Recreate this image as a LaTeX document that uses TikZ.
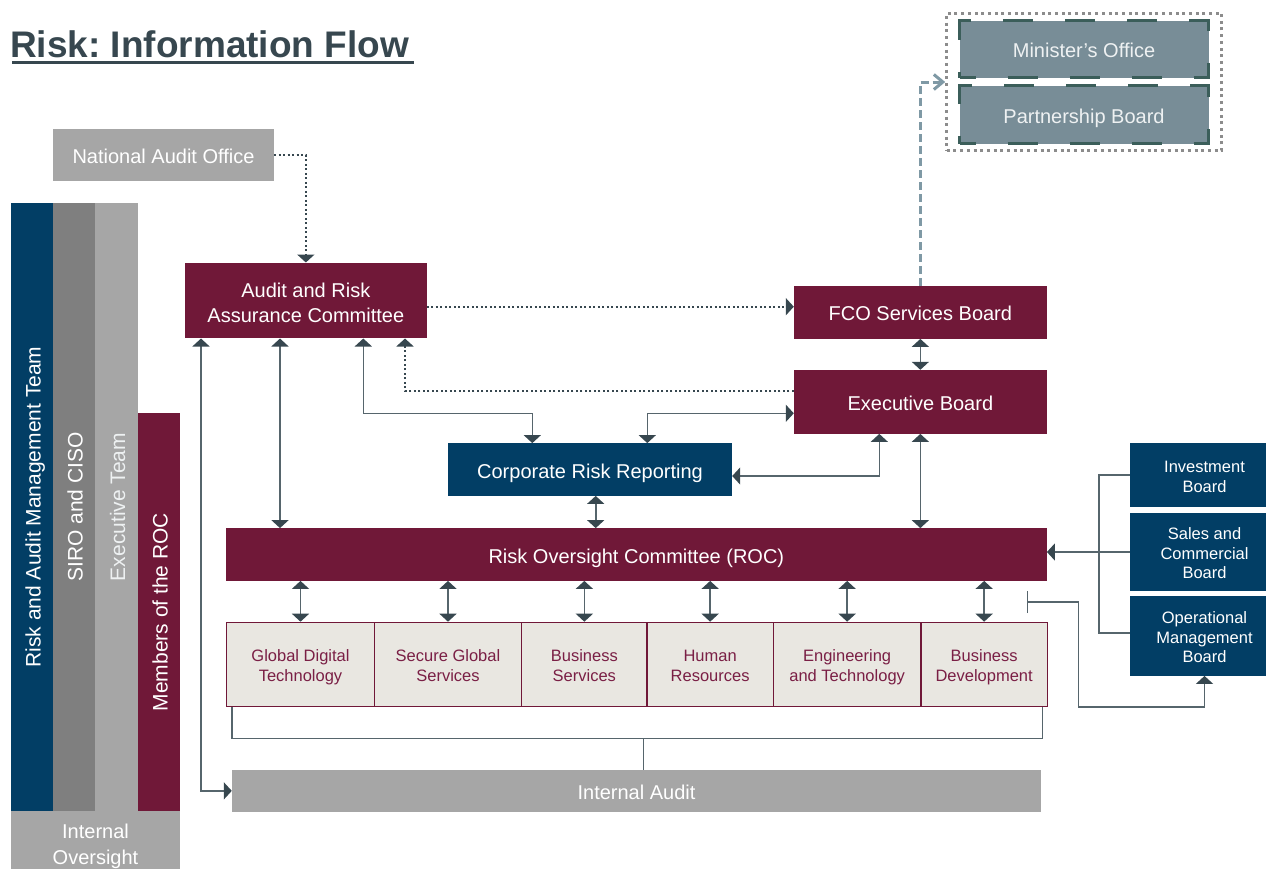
\documentclass[tikz,border=0pt]{standalone}
\usepackage{fontspec}
\setmainfont{Liberation Sans}
\usetikzlibrary{arrows.meta}
\frenchspacing
\definecolor{cMar}{HTML}{701838}
\definecolor{cNavy}{HTML}{023E65}
\definecolor{cGray}{HTML}{A6A6A6}
\definecolor{cMid}{HTML}{7F7F7F}
\definecolor{cBeige}{HTML}{E9E7E1}
\definecolor{cUnitTxt}{HTML}{7A1F45}
\definecolor{cSlate}{HTML}{788D97}
\definecolor{cDash}{HTML}{3B5E5A}
\definecolor{cDot}{HTML}{8C8C8C}
\definecolor{cDashLine}{HTML}{7F99A5}
\definecolor{cTitle}{HTML}{37474F}
\definecolor{cLine}{HTML}{56656C}
\definecolor{cArrow}{HTML}{37474F}
\definecolor{cLight}{HTML}{EEF1F2}
\newcommand\bigtop{\rule{0pt}{22pt}}
\newcommand\bigbot{\rule[-5pt]{0pt}{5pt}}
\newcommand\tstrut[1]{\rule{0pt}{#1pt}}
\newcommand\bstrut[1]{\rule[-#1pt]{0pt}{#1pt}}
\tikzset{
  box/.style={inner sep=0pt, align=center, text=white, font=\fontsize{20}{25}\selectfont,
    execute at begin node=\bigtop, execute at end node=\bigbot},
  multi/.style={execute at begin node={}, execute at end node={}},
  wh/.style 2 args={minimum width=#1pt, minimum height=#2pt},
  unitbox/.style={box, multi, fill=cBeige, draw=cMar, line width=1.2pt, text=cUnitTxt, font=\fontsize{16.5}{20}\selectfont},
  smallbox/.style={box, multi, fill=cNavy, font=\fontsize{16.5}{19.5}\selectfont},
  vbar/.style={box, rotate=90, font=\fontsize{21}{25}\selectfont},
  conn/.style={draw=cLine, line width=1.6pt},
  dotline/.style={draw=cArrow, line width=2pt, dash pattern=on 2pt off 2.5pt},
  dashline/.style={draw=cDashLine, line width=3pt, dash pattern=on 8pt off 4pt},
  mbox/.style={box, fill=cSlate, text=cLight, draw=cDash, line width=3pt, dash pattern=on 30pt off 32pt, dash phase=14pt},
}
\begin{document}
\begin{tikzpicture}[x=1pt, y=-1pt, >={Triangle[width=17pt,length=8pt,color=cArrow]}]
\useasboundingbox (0,0) rectangle (1266,868);
\clip (0,0) rectangle (1266,868);

% title
\node[anchor=base west, inner sep=0pt, text=cTitle, font=\fontsize{37}{40}\selectfont\bfseries] (title) at (10,57) {Risk: Information Flow};
\fill[cTitle] (12,60.5) rectangle (414,64);

% minister group
\node[draw=cDot, line width=3pt, dash pattern=on 3pt off 3.7pt, wh={275}{137.4}, inner sep=0pt] (mgroup) at (1084.2,82) {};
\node[mbox, wh={249}{57}] (mo) at (1084,49) {Minister’s Office};
\node[mbox, wh={249}{58}] (pb) at (1084,114.5) {Partnership Board};

% main boxes
\node[box, fill=cGray, wh={221}{52}] (nao) at (163.5,155) {National Audit Office};
\node[box, multi, fill=cMar, wh={241.7}{75.6}] (audit) at (305.85,300.5) {\tstrut{24}Audit and Risk\\Assurance Committee\bstrut{5}};
\node[box, fill=cMar, wh={252.7}{52.7}] (fco) at (920.35,312.35) {FCO Services Board};
\node[box, fill=cMar, wh={252.7}{63.7}] (exec) at (920.35,401.85) {Executive Board};
\node[box, fill=cNavy, wh={284}{52.4}] (crr) at (590,469.5) {Corporate Risk Reporting};
\node[box, fill=cMar, wh={820.7}{52.4}] (roc) at (636.35,554.5) {Risk Oversight Committee (ROC)};

% units
\node[unitbox, wh={147.6}{84.4}] (u1) at (300.5,664.5) {\tstrut{19}Global Digital\\Technology\bstrut{4}};
\node[unitbox, wh={147.4}{84.4}] (u2) at (448,664.5) {\tstrut{19}Secure Global\\Services\bstrut{4}};
\node[unitbox, wh={125.3}{84.4}] (u3) at (584.35,664.5) {\tstrut{19}Business\\Services\bstrut{4}};
\node[unitbox, wh={126.3}{84.4}] (u4) at (710.15,664.5) {\tstrut{19}Human\\Resources\bstrut{4}};
\node[unitbox, wh={147.7}{84.4}] (u5) at (847.15,664.5) {\tstrut{19}Engineering\\and Technology\bstrut{4}};
\node[unitbox, wh={126.3}{84.4}] (u6) at (984.15,664.5) {\tstrut{19}Business\\Development\bstrut{4}};

\node[box, fill=cGray, wh={809}{41.7}] (ia) at (636.5,790.85) {Internal Audit};

% left bars
\node[vbar, fill=cNavy, wh={608}{42}] (ramt) at (32,507) {Risk and Audit Management Team};
\node[vbar, fill=cMid, wh={608}{42}] (siro) at (74,507) {SIRO and CISO};
\node[vbar, fill=cGray, text=cLight, wh={608}{43}] (exteam) at (116.5,507) {Executive Team};
\node[vbar, fill=cMar, wh={398}{42}] (members) at (159,612) {Members of the ROC};
\node[box, multi, fill=cGray, wh={169}{68}, font=\fontsize{20}{26}\selectfont] (io) at (95.5,845) {\tstrut{17}Internal\\Oversight\bstrut{5}};

% right boards
\node[smallbox, wh={149}{63.4}] (inv) at (1204.5,475) {\tstrut{19.5}Investment\\Board\bstrut{4}};
\node[smallbox, wh={149}{77.4}] (sales) at (1204.5,552) {\tstrut{19.5}Sales and\\Commercial\\Board\bstrut{4}};
\node[smallbox, wh={149}{79.7}] (opb) at (1204.5,635.85) {\tstrut{19.5}Operational\\Management\\Board\bstrut{4}};

% helper coordinates
\coordinate (yAF) at (0,306.7);
\coordinate (yEA) at (0,390.7);
\coordinate (xEA) at (405,0);
\coordinate (x363) at (363.3,0);
\coordinate (y413) at (0,413.3);
\coordinate (x532) at (532.3,0);
\coordinate (x647) at (647.3,0);
\coordinate (y476) at (0,476);
\coordinate (x879) at (879.3,0);
\coordinate (x596) at (595.7,0);
\coordinate (x280) at (280,0);
\coordinate (x201) at (201,0);
\coordinate (xR) at (1099,0);
\coordinate (yOp) at (0,632.7);
\coordinate (tstart) at (1026.7,602);
\coordinate (xT) at (1078.3,0);
\coordinate (yT) at (0,706.7);
\coordinate (xBL) at (231.7,0);
\coordinate (xBR) at (1042.3,0);
\coordinate (yBr) at (0,738.3);
\coordinate (xStem) at (643.3,0);

% connectors
\draw[dotline,->] (nao.east) -| (audit.north);
\draw[dotline,->] (audit.east |- yAF) -- (fco.west |- yAF);
\draw[dotline,->] (exec.west |- yEA) -| (audit.south -| xEA);
\draw[conn,<->] (audit.south -| x363) |- (y413 -| x532) -- (crr.north -| x532);
\draw[conn,<->] (exec.west |- y413) -| (crr.north -| x647);
\draw[conn,<->] (crr.east |- y476) -| (exec.south -| x879);
\draw[conn,<->] (fco.south) -- (exec.north);
\draw[conn,<->] (exec.south) -- (roc.north -| exec.south);
\draw[conn,<->] (crr.south -| x596) -- (roc.north -| x596);
\draw[conn,<->] (audit.south -| x280) -- (roc.north -| x280);
\draw[conn,<->] (audit.south -| x201) |- (ia.west);
\foreach \u in {u1,u2,u3,u4,u5,u6} \draw[conn,<->] (roc.south -| \u.north) -- (\u.north);
\draw[conn,->] (sales.west) -- (roc.east |- sales.west);
\draw[conn] (inv.west) -| (xR |- yOp) -- (opb.west |- yOp);
\draw[conn,{Bar[width=22pt]}->] (tstart) -| (yT -| xT) -| (opb.south);
\draw[conn] (u1.south -| xBL) |- (yBr -| xBR) -- (u6.south -| xBR);
\draw[conn] (ia.north -| xStem) -- (yBr -| xStem);
\draw[dashline,-{Straight Barb[length=9pt,width=15pt]}] (fco.north) |- (mgroup.west);
\end{tikzpicture}
\end{document}
